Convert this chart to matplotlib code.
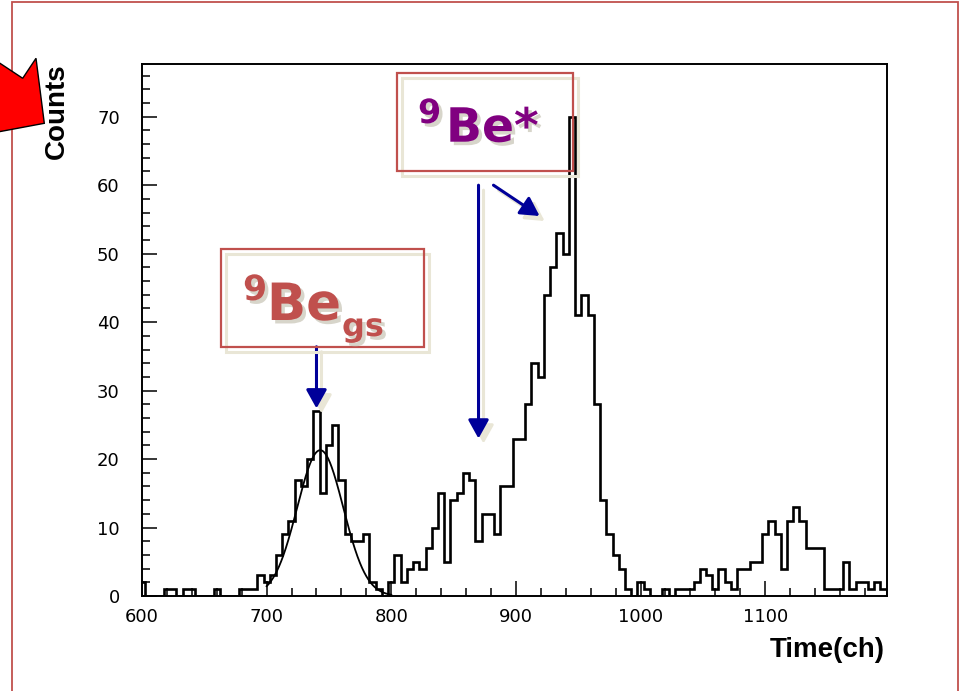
import matplotlib
matplotlib.use('Agg')
import matplotlib.pyplot as plt
import matplotlib.patches as mpatches
import matplotlib.patheffects as pe
from matplotlib.transforms import offset_copy
import numpy as np

# Time spectrum, 5 ch bins, first bin edge at 597.5 ch
bin_start = 597.5
bin_width = 5
counts = [
    2, 0, 0, 0, 1, 1, 0, 1, 1, 0,          # 600 - 645
    0, 0, 1, 0, 0, 0, 1, 1, 1, 3,          # 650 - 695
    2, 3, 6, 9, 11, 17, 16, 20, 27, 15,    # 700 - 745
    22, 25, 17, 9, 8, 8, 9, 2, 1, 0,       # 750 - 795
    2, 6, 2, 4, 5, 4, 7, 10, 15, 5,        # 800 - 845
    14, 15, 18, 17, 8, 12, 12, 9, 16, 16,  # 850 - 895
    23, 23, 28, 34, 32, 44, 48, 53, 50, 70,  # 900 - 945
    41, 44, 41, 28, 14, 9, 6, 4, 1, 0,     # 950 - 995
    2, 1, 0, 0, 1, 0, 1, 1, 1, 2,          # 1000 - 1045
    4, 3, 1, 4, 2, 1, 4, 4, 5, 5,          # 1050 - 1095
    9, 11, 9, 4, 11, 13, 11, 7, 7, 7,      # 1100 - 1145
    1, 1, 1, 5, 1, 2, 2, 1, 2, 1,          # 1150 - 1195
]

# gaussian fit drawn over the ground state peak
fit_amp = 21.3
fit_mean = 743.0
fit_sigma = 18.5
fit_lo, fit_hi = 700, 800

x_ticks = [600, 700, 800, 900, 1000, 1100]
y_ticks = [0, 10, 20, 30, 40, 50, 60, 70]

# arrow tips / tails in data units
gs_arrow = ((740, 27.4), (740, 36.4))
ex_arrow1 = ((870, 23.0), (870, 60.0))
ex_arrow2 = ((919, 55.5), (882, 60.0))

W, H = 961, 691
navy = '#000099'
brick = '#C0504D'
purple = '#800080'
beige = '#E9E6D6'


def fpx(x, y):
    # figure pixel (from top-left) -> figure fraction
    return x / W, 1 - y / H


fig = plt.figure(figsize=(W / 100, H / 100), dpi=100)
fig.patch.set_facecolor('white')

# slide frame
fig.add_artist(mpatches.Rectangle(fpx(12, 700), (958 - 12) / W, (700 - 2) / H,
                                  transform=fig.transFigure, fill=False,
                                  edgecolor=brick, lw=1.3))

# red block arrow at top-left
arrow_pts = [fpx(-5, 60), fpx(22.7, 78.3), fpx(36, 58.3), fpx(44.3, 123.3), fpx(-5, 132.5)]
fig.add_artist(mpatches.Polygon(arrow_pts, closed=True, transform=fig.transFigure,
                                facecolor='#FF0000', edgecolor='black', lw=1.0))

ax = fig.add_axes([142 / W, 1 - 596 / H, (886.7 - 142) / W, (596 - 64) / H])

edges = bin_start + bin_width * np.arange(len(counts) + 1)
ax.stairs(counts, edges, color='black', lw=1.9, baseline=0)

xs = np.linspace(fit_lo, fit_hi, 300)
ax.plot(xs, fit_amp * np.exp(-0.5 * ((xs - fit_mean) / fit_sigma) ** 2),
        color='black', lw=1.3)

ax.set_xlim(600, 1197.5)
ax.set_ylim(0, 77.7)
ax.set_xticks(x_ticks)
ax.set_yticks(y_ticks)
ax.set_xticks(np.arange(600, 1197, 20), minor=True)
ax.set_yticks(np.arange(0, 77, 2), minor=True)
ax.tick_params(which='major', direction='in', length=10.8, width=1.1,
               labelsize=13, top=False, right=False)
ax.tick_params(which='minor', direction='in', length=5.8, width=1.1,
               top=False, right=False)
ax.tick_params(axis='x', pad=9)
ax.tick_params(axis='y', pad=16)
for s in ax.spines.values():
    s.set_linewidth(1.4)

fig.text(*fpx(57, 63), 'Counts', rotation=90, ha='center', va='top',
         fontsize=20, fontweight='bold', family='Liberation Sans')
fig.text(*fpx(885, 650), 'Time(ch)', ha='right', va='center',
         fontsize=20, fontweight='bold', family='Liberation Sans')

# label boxes with beige drop shadow
for (x0, y0, x1, y1) in [(396.7, 72.7, 573.3, 171), (220.7, 249, 424, 347.3)]:
    fig.add_artist(mpatches.Rectangle(fpx(x0 + 5, y1 + 5), (x1 - x0) / W, (y1 - y0) / H,
                                      transform=fig.transFigure, fill=False,
                                      edgecolor=beige, lw=2.2))
    fig.add_artist(mpatches.Rectangle(fpx(x0, y1), (x1 - x0) / W, (y1 - y0) / H,
                                      transform=fig.transFigure, fill=False,
                                      edgecolor=brick, lw=1.6))

shadow = [pe.withSimplePatchShadow(offset=(2.5, -2.5), shadow_rgbFace='#bdb9a8', alpha=0.6)]

fig.text(*fpx(418, 123), '9', color=purple, fontsize=24, fontweight='bold',
         va='baseline', path_effects=shadow)
fig.text(*fpx(446, 141.7), 'Be*', color=purple, fontsize=34, fontweight='bold',
         va='baseline', path_effects=shadow)

fig.text(*fpx(243, 300), '9', color=brick, fontsize=25, fontweight='bold',
         va='baseline', path_effects=shadow)
fig.text(*fpx(267, 320), 'Be', color=brick, fontsize=37, fontweight='bold',
         va='baseline', path_effects=shadow)
fig.text(*fpx(342, 336), 'gs', color=brick, fontsize=23, fontweight='bold',
         va='baseline', path_effects=shadow)

# blue arrows (with beige shadow underneath)
shadow_tr = offset_copy(ax.transData, fig=fig, x=5, y=-5, units='dots')
for tip, tail in [gs_arrow, ex_arrow1, ex_arrow2]:
    for tr, col, z in [(shadow_tr, beige, 3), (ax.transData, navy, 4)]:
        ax.annotate('', xy=tip, xytext=tail, xycoords=tr, textcoords=tr,
                    annotation_clip=False, zorder=z,
                    arrowprops=dict(arrowstyle='-|>,head_length=0.45,head_width=0.25',
                                    mutation_scale=25, color=col, lw=2.2,
                                    shrinkA=0, shrinkB=0))

fig.savefig('out.png', dpi=100)
